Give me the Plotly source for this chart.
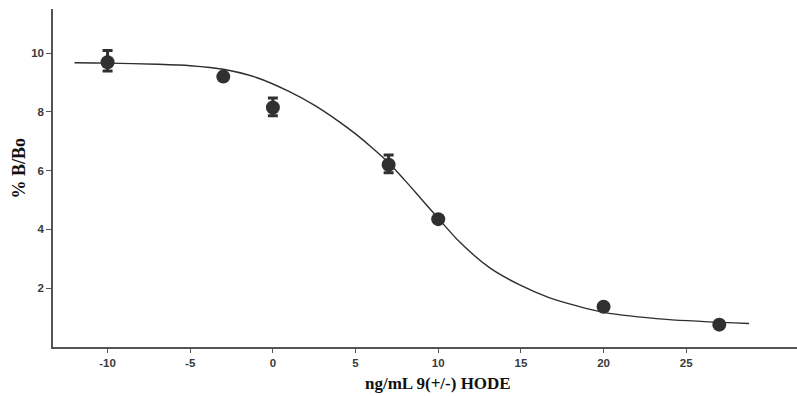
import plotly.graph_objects as go

# Measured data points
conc = [-10, -3, 0, 7, 10, 20, 27]
pct_b_bo = [9.69, 9.2, 8.15, 6.2, 4.35, 1.37, 0.76]
err_plus = [0.4, 0, 0.32, 0.33, 0, 0, 0]
err_minus = [0.3, 0, 0.28, 0.27, 0, 0, 0]

# Fitted curve
curve_x = [-12, -10, -7, -5, -3, -1, 1, 2.5, 4, 5, 6, 7, 8, 9, 10, 11.3, 13.1, 14.9, 16.7, 18.5, 20, 23.8, 28.8]
curve_y = [9.67, 9.66, 9.62, 9.57, 9.45, 9.17, 8.69, 8.23, 7.67, 7.25, 6.78, 6.27, 5.66, 5.02, 4.38, 3.57, 2.70, 2.12, 1.68, 1.38, 1.18, 0.94, 0.80]

x_ticks = [-10, -5, 0, 5, 10, 15, 20, 25]
y_ticks = [2, 4, 6, 8, 10]

fig = go.Figure()
fig.add_trace(go.Scatter(
    x=curve_x, y=curve_y, mode="lines", line=dict(color="#2e2e2e", width=1.4, shape="spline", smoothing=0.8),
    hoverinfo="skip", showlegend=False))
fig.add_trace(go.Scatter(
    x=conc, y=pct_b_bo, mode="markers",
    marker=dict(size=14, color="#303030"),
    error_y=dict(type="data", symmetric=False, array=err_plus, arrayminus=err_minus,
                 color="#303030", thickness=3, width=5),
    showlegend=False))

tickfont = dict(family="Liberation Sans, Arial, sans-serif", size=11.5, color="#3a3a3a")
fig.update_layout(
    width=797, height=396,
    margin=dict(l=53, r=0, t=9, b=49, autoexpand=False),
    paper_bgcolor="white", plot_bgcolor="white",
    xaxis=dict(range=[-13.3, 31.7], tickvals=x_ticks, ticktext=["<b>%d</b>" % v for v in x_ticks],
               showgrid=False, zeroline=False, showline=True, linecolor="#555555", linewidth=1.5,
               ticks="outside", ticklen=4, tickcolor="#555555", tickfont=tickfont),
    yaxis=dict(range=[0, 11.5], tickvals=y_ticks, ticktext=["<b>%d</b>" % v for v in y_ticks],
               showgrid=False, zeroline=False, showline=True, linecolor="#555555", linewidth=1.5,
               ticks="outside", ticklen=5, tickcolor="#555555", tickfont=tickfont),
    annotations=[
        dict(text="<b>ng/mL 9(+/-) HODE</b>", xref="paper", yref="paper",
             x=(438 - 53) / 744, y=-(383 - 347) / 338, xanchor="center", yanchor="middle",
             showarrow=False, font=dict(family="Liberation Serif, Times New Roman, serif", size=17, color="#111111")),
        dict(text="<b>% B/Bo</b>", xref="paper", yref="paper", textangle=-90,
             x=-(53 - 18) / 744, y=(347 - 168.5) / 338, xanchor="center", yanchor="middle",
             showarrow=False, font=dict(family="Liberation Serif, Times New Roman, serif", size=18, color="#111111")),
    ],
)
fig.write_html("out.html", config={"displayModeBar": False},
               post_script="document.body.style.margin='0';document.body.style.overflow='hidden';")
